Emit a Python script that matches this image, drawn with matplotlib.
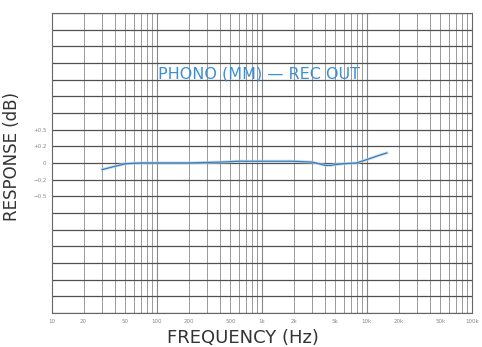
import numpy as np
import matplotlib.pyplot as plt
from matplotlib.ticker import FixedLocator, NullFormatter

# frequency response
freq_hz = [30, 40, 50, 70, 100, 200, 400, 600, 1000, 2000, 3000, 3500, 4000, 4500, 5000, 6000, 8000, 10000, 13000, 15500]
resp_db = [-0.08, -0.04, -0.01, 0.0, 0.0, 0.0, 0.01, 0.02, 0.02, 0.02, 0.01, -0.01, -0.03, -0.03, -0.02, -0.01, 0.0, 0.04, 0.09, 0.12]

x_ticks = [10, 20, 50, 100, 200, 500, 1000, 2000, 5000, 10000, 20000, 50000, 100000]
x_labels = ["10", "20", "50", "100", "200", "500", "1k", "2k", "5k", "10k", "20k", "50k", "100k"]

y_labels = {0.5: "+0.5", 0.2: "+0.2", 0.0: "0", -0.2: "\u22120.2", -0.5: "\u22120.5"}

# non-linear dB axis: grid rows are 0.5 / 0.2 / 0 / -0.2 / -0.5 around center
knots_db = [-2.6, -0.5, -0.2, 0.0, 0.2, 0.5, 2.6]
knots_row = [-9, -2, -1, 0, 1, 2, 9]


def fwd(v):
    return np.interp(v, knots_db, knots_row)


def inv(r):
    return np.interp(r, knots_row, knots_db)


fig = plt.figure(figsize=(4.82, 3.47), dpi=100)
ax = fig.add_axes([0.108, 0.098, 0.871, 0.865])

ax.set_xscale("log")
ax.set_yscale("function", functions=(fwd, inv))
ax.set_xlim(10, 100000)
ax.set_ylim(-2.6, 2.6)

# vertical grid
for dec in [10, 100, 1000, 10000]:
    for m in range(1, 10):
        f = dec * m
        if f <= 10:
            continue
        ax.axvline(f, color="#8a8a8a", lw=0.6 if m > 1 else 0.8, zorder=1)

# horizontal grid rows
rows = np.arange(-9, 10)
for r in rows:
    ax.axhline(inv(r), color="#505050", lw=0.9, zorder=1)

ax.plot(freq_hz, resp_db, color="#b5d5ee", lw=2.2, alpha=0.7, zorder=2)
ax.plot(freq_hz, resp_db, color="#3a7db8", lw=0.9, zorder=3)

ax.xaxis.set_major_locator(FixedLocator(x_ticks))
ax.set_xticklabels(x_labels)
ax.xaxis.set_minor_formatter(NullFormatter())
ax.tick_params(axis="x", which="both", length=0, labelsize=4, labelcolor="#888888", pad=4)

ax.yaxis.set_major_locator(FixedLocator(list(y_labels.keys())))
ax.set_yticklabels(list(y_labels.values()))
ax.yaxis.set_minor_locator(FixedLocator([]))
ax.tick_params(axis="y", which="both", length=0, labelsize=4, labelcolor="#888888", pad=4)

for s in ax.spines.values():
    s.set_color("#666666")
    s.set_linewidth(0.8)

ax.text(0.493, 0.797, "PHONO (MM) \u2014 REC OUT", transform=ax.transAxes,
        ha="center", va="center", color="#3a8fd6", fontsize=11.5)

fig.text(0.505, 0.025, "FREQUENCY (Hz)", ha="center", va="center", fontsize=13, color="#333333")
fig.text(0.025, 0.548, "RESPONSE (dB)", ha="center", va="center", rotation=90, fontsize=12, color="#333333")

fig.savefig("out.png", dpi=100)
